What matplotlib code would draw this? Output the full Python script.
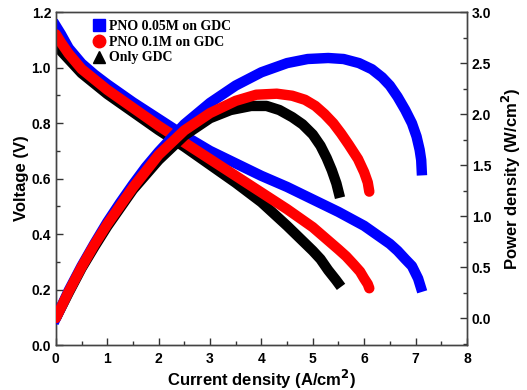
import matplotlib
matplotlib.use("Agg")
import matplotlib.pyplot as plt
from matplotlib.lines import Line2D
from matplotlib.ticker import MultipleLocator

# voltage curves (left axis)
blue_i_v = [0, 0.05, 0.1, 0.25, 0.5, 0.75, 1, 1.5, 2, 2.5, 3, 3.5, 4, 4.5, 5, 5.5, 6, 6.5,
            6.65, 6.8, 6.93, 7.05, 7.1]
blue_v = [1.15, 1.135, 1.12, 1.07, 1.015, 0.975, 0.94, 0.875, 0.815, 0.755, 0.70, 0.655, 0.61,
          0.57, 0.525, 0.48, 0.43, 0.365, 0.34, 0.31, 0.285, 0.24, 0.21]

red_i_v = [0, 0.05, 0.1, 0.25, 0.5, 1, 1.5, 2, 2.5, 3, 3.5, 4, 4.5, 5, 5.5, 5.65, 5.8, 5.92,
           6.0, 6.07, 6.1]
red_v = [1.12, 1.105, 1.09, 1.05, 0.995, 0.92, 0.855, 0.79, 0.73, 0.67, 0.61, 0.55, 0.49, 0.425,
         0.345, 0.32, 0.29, 0.265, 0.24, 0.22, 0.205]

black_i_v = [0, 0.05, 0.1, 0.25, 0.5, 1, 1.5, 2, 2.5, 3, 3.5, 4, 4.5, 4.75, 5, 5.15, 5.3,
             5.45, 5.55]
black_v = [1.08, 1.07, 1.06, 1.03, 0.98, 0.905, 0.84, 0.775, 0.715, 0.65, 0.585, 0.515, 0.43,
           0.385, 0.34, 0.31, 0.27, 0.235, 0.21]

# power density curves (right axis)
blue_i_p = [0, 0.25, 0.5, 0.75, 1, 1.25, 1.5, 1.75, 2, 2.5, 3, 3.5, 4, 4.5, 4.9, 5.3, 5.6,
            5.9, 6.15, 6.35, 6.5, 6.65, 6.8, 6.93, 7.02, 7.08, 7.11, 7.12]
blue_p = [0.0, 0.27, 0.51, 0.73, 0.94, 1.13, 1.31, 1.48, 1.63, 1.9, 2.11, 2.28, 2.41, 2.5,
          2.54, 2.55, 2.54, 2.5, 2.44, 2.36, 2.28, 2.17, 2.04, 1.91, 1.78, 1.65, 1.55, 1.45]

red_i_p = [0, 0.25, 0.5, 0.75, 1, 1.5, 2, 2.5, 3, 3.5, 3.9, 4.3, 4.6, 4.85, 5.05, 5.23, 5.4,
           5.55, 5.7, 5.88, 6.0, 6.07, 6.1]
red_p = [0.0, 0.26, 0.5, 0.72, 0.92, 1.28, 1.6, 1.84, 2.01, 2.13, 2.19, 2.2, 2.18, 2.14, 2.08,
         2.0, 1.91, 1.81, 1.7, 1.56, 1.43, 1.33, 1.24]

black_i_p = [0, 0.25, 0.5, 0.75, 1, 1.5, 2, 2.5, 3, 3.4, 3.8, 4.1, 4.35, 4.6, 4.8, 5.0, 5.15,
             5.27, 5.37, 5.46, 5.53]
black_p = [0.0, 0.25, 0.49, 0.7, 0.9, 1.26, 1.55, 1.79, 1.96, 2.04, 2.08, 2.08, 2.04, 1.97,
           1.9, 1.8, 1.69, 1.57, 1.45, 1.32, 1.18]

labels = ["PNO 0.05M on GDC", "PNO 0.1M on GDC", "Only GDC"]

plt.rcParams["font.family"] = ["Liberation Sans", "DejaVu Sans"]
plt.rcParams["font.weight"] = "bold"

fig = plt.figure(figsize=(5.27, 3.9), dpi=100)
ax1 = fig.add_axes([0.106, 0.115, 0.780, 0.854])
ax2 = ax1.twinx()

lw = 7.5
style = dict(lw=lw, solid_joinstyle="round")
ax1.plot(black_i_v, black_v, color="black", solid_capstyle="butt", zorder=2, **style)
ax1.plot(blue_i_v, blue_v, color="#0000ff", solid_capstyle="projecting", zorder=3, **style)
ax1.plot(red_i_v, red_v, color="#ff0000", solid_capstyle="round", zorder=4, **style)

ax2.plot(black_i_p, black_p, color="black", solid_capstyle="butt", zorder=2, **style)
ax2.plot(blue_i_p, blue_p, color="#0000ff", solid_capstyle="projecting", zorder=3, **style)
ax2.plot(red_i_p, red_p, color="#ff0000", solid_capstyle="round", zorder=4, **style)

ax1.set_xlim(0, 8)
ax1.set_ylim(0, 1.2)
ax2.set_ylim(-0.265, 3.0)

ax1.xaxis.set_major_locator(MultipleLocator(1))
ax1.xaxis.set_minor_locator(MultipleLocator(0.5))
ax1.yaxis.set_major_locator(MultipleLocator(0.2))
ax1.yaxis.set_minor_locator(MultipleLocator(0.1))
ax2.yaxis.set_major_locator(MultipleLocator(0.5))
ax2.yaxis.set_minor_locator(MultipleLocator(0.25))

for ax in (ax1, ax2):
    ax.tick_params(which="both", direction="in", labelsize=10, width=1, color="#333333")
    ax.tick_params(which="major", length=5)
    ax.tick_params(which="minor", length=3)
    for s in ax.spines.values():
        s.set_color("#444444")
        s.set_linewidth(1)
ax1.tick_params(axis="x", pad=5)

ax1.set_xlabel("Current density (A/cm$^\\mathbf{2}$)", fontsize=12, fontweight="bold", labelpad=1)
ax1.set_ylabel("Voltage (V)", fontsize=12, fontweight="bold", labelpad=2)
ax2.set_ylabel("Power density (W/cm$^\\mathbf{2}$)", fontsize=12, fontweight="bold", labelpad=6)

handles = [
    Line2D([], [], ls="none", marker="s", ms=9, color="#0000ff"),
    Line2D([], [], ls="none", marker="o", ms=9, color="#ff0000"),
    Line2D([], [], ls="none", marker="^", ms=8, color="black"),
]
ax2.legend(handles, labels, loc="upper left", bbox_to_anchor=(0.065, 1.01), frameon=False,
           prop={"family": "Liberation Serif", "weight": "bold", "size": 10},
           handlelength=0.8, handletextpad=0.3, labelspacing=0.2, borderpad=0.3)

fig.savefig("out.png", dpi=100)
